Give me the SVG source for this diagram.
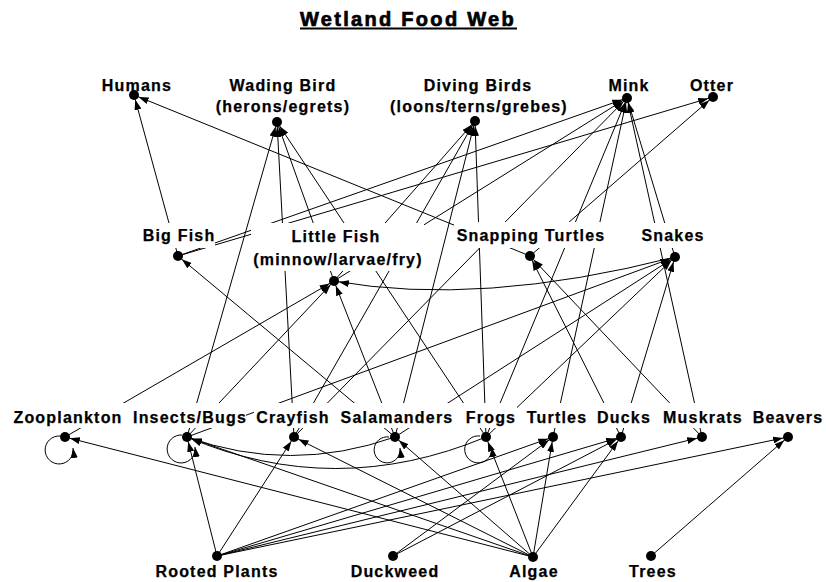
<svg xmlns="http://www.w3.org/2000/svg" width="826" height="582" viewBox="0 0 826 582">
<style>
.l{stroke:#000;stroke-width:1;fill:none;marker-end:url(#arr)}
.lp{stroke:#000;stroke-width:1;fill:none;marker-end:url(#arrl)}
.t{font-family:"Liberation Sans",Arial,sans-serif;font-weight:bold;font-size:16px;letter-spacing:1.2px;text-anchor:middle;fill:#000;stroke:#000;stroke-width:0.25px}
.bg{fill:#fff}
.d{fill:#000}
</style>
<defs>
<marker id="arr" viewBox="0 0 10 7" refX="15" refY="3.5" markerWidth="10" markerHeight="7" markerUnits="userSpaceOnUse" orient="auto"><path d="M0,0L10,3.5L0,7z" fill="#000"/></marker>
<marker id="arrl" viewBox="0 0 10 7" refX="10" refY="3.5" markerWidth="10" markerHeight="7" markerUnits="userSpaceOnUse" orient="auto"><path d="M0,0L10,3.5L0,7z" fill="#000"/></marker>
</defs>
<rect width="826" height="582" fill="#fff"/>
<g id="title">
<text x="408" y="26" style="font-family:'Liberation Sans',Arial,sans-serif;font-weight:bold;font-size:20px;letter-spacing:2.3px;text-anchor:middle;stroke:#000;stroke-width:0.7px">Wetland Food Web</text>
<line x1="300" y1="28.5" x2="517" y2="28.5" stroke="#000" stroke-width="2"/>
</g>
<g id="connectors">
<line class="l" x1="178" y1="256" x2="134" y2="95"/>
<line class="l" x1="530" y1="256" x2="134" y2="95"/>
<line class="l" x1="187" y1="437" x2="277" y2="122"/>
<line class="l" x1="294" y1="437" x2="277" y2="122"/>
<line class="l" x1="334" y1="281" x2="277" y2="122"/>
<line class="l" x1="486" y1="437" x2="277" y2="122"/>
<line class="l" x1="334" y1="281" x2="475" y2="121"/>
<line class="l" x1="294" y1="437" x2="475" y2="121"/>
<line class="l" x1="395" y1="437" x2="475" y2="121"/>
<line class="l" x1="486" y1="437" x2="475" y2="121"/>
<line class="l" x1="178" y1="256" x2="627" y2="98"/>
<line class="l" x1="334" y1="281" x2="627" y2="98"/>
<line class="l" x1="294" y1="437" x2="627" y2="98"/>
<line class="l" x1="486" y1="437" x2="627" y2="98"/>
<line class="l" x1="553" y1="437" x2="627" y2="98"/>
<line class="l" x1="702" y1="437" x2="627" y2="98"/>
<line class="l" x1="675" y1="257" x2="627" y2="98"/>
<line class="l" x1="178" y1="256" x2="713" y2="97"/>
<line class="l" x1="530" y1="256" x2="713" y2="97"/>
<line class="l" x1="395" y1="437" x2="178" y2="256"/>
<line class="l" x1="65" y1="437" x2="334" y2="281"/>
<line class="l" x1="187" y1="437" x2="334" y2="281"/>
<line class="l" x1="395" y1="437" x2="334" y2="281"/>
<path class="l" d="M675,257Q480,307 334,281"/>
<line class="l" x1="621" y1="437" x2="530" y2="256"/>
<line class="l" x1="702" y1="437" x2="530" y2="256"/>
<line class="l" x1="187" y1="437" x2="675" y2="257"/>
<line class="l" x1="395" y1="437" x2="675" y2="257"/>
<line class="l" x1="486" y1="437" x2="675" y2="257"/>
<line class="l" x1="621" y1="437" x2="675" y2="257"/>
<path class="lp" d="M60,436A14,14 0 1,0 73,448"/>
<path class="lp" d="M182,435A14,14 0 1,0 195,447"/>
<path class="lp" d="M389,437A13,13 0 1,0 400,448"/>
<path class="lp" d="M480,436A13.5,13.5 0 1,0 491.5,447"/>
<path class="l" d="M395,437Q290,474 187,437"/>
<path class="l" d="M486,437Q335,500 187,437"/>
<line class="l" x1="217" y1="556" x2="187" y2="437"/>
<line class="l" x1="217" y1="556" x2="294" y2="437"/>
<line class="l" x1="217" y1="556" x2="553" y2="437"/>
<line class="l" x1="217" y1="556" x2="621" y2="437"/>
<line class="l" x1="217" y1="556" x2="702" y2="437"/>
<line class="l" x1="217" y1="556" x2="788" y2="437"/>
<line class="l" x1="533" y1="557" x2="65" y2="437"/>
<line class="l" x1="533" y1="557" x2="187" y2="437"/>
<line class="l" x1="533" y1="557" x2="294" y2="437"/>
<line class="l" x1="533" y1="557" x2="395" y2="437"/>
<line class="l" x1="533" y1="557" x2="486" y2="437"/>
<line class="l" x1="533" y1="557" x2="553" y2="437"/>
<line class="l" x1="533" y1="557" x2="621" y2="437"/>
<line class="l" x1="393" y1="556" x2="553" y2="437"/>
<line class="l" x1="393" y1="556" x2="621" y2="437"/>
<line class="l" x1="651" y1="556" x2="788" y2="437"/>
</g>
<g id="humans"><rect class="bg" x="97" y="77" width="78" height="18"/><text class="t" x="137" y="91">Humans</text><circle class="d" cx="134" cy="95" r="5"/></g>
<g id="wading-bird"><rect class="bg" x="213" y="76" width="139" height="41"/><text class="t" x="283" y="91">Wading Bird</text><text class="t" x="283" y="112">(herons/egrets)</text><circle class="d" cx="277" cy="122" r="5"/></g>
<g id="diving-birds"><rect class="bg" x="387" y="76" width="183" height="41"/><text class="t" x="478" y="91">Diving Birds</text><text class="t" x="479" y="112">(loons/terns/grebes)</text><circle class="d" cx="475" cy="121" r="5"/></g>
<g id="mink"><rect class="bg" x="606" y="77" width="44" height="17"/><text class="t" x="629" y="91">Mink</text><circle class="d" cx="627" cy="98" r="5"/></g>
<g id="otter"><rect class="bg" x="688" y="77" width="47" height="17"/><text class="t" x="712" y="91">Otter</text><circle class="d" cx="713" cy="97" r="5"/></g>
<g id="big-fish"><rect class="bg" x="142" y="223" width="73" height="25"/><text class="t" x="179" y="241">Big Fish</text><circle class="d" cx="178" cy="256" r="5"/></g>
<g id="little-fish"><rect class="bg" x="251" y="223" width="173" height="48"/><text class="t" x="336" y="242">Little Fish</text><text class="t" x="338" y="265">(minnow/larvae/fry)</text><circle class="d" cx="334" cy="281" r="5"/></g>
<g id="snapping-turtles"><rect class="bg" x="454" y="222" width="153" height="26"/><text class="t" x="531" y="241">Snapping Turtles</text><circle class="d" cx="530" cy="256" r="5"/></g>
<g id="snakes"><rect class="bg" x="639" y="223" width="68" height="25"/><text class="t" x="673" y="241">Snakes</text><circle class="d" cx="675" cy="257" r="5"/></g>
<g id="zooplankton"><rect class="bg" x="11" y="403" width="113" height="25"/><text class="t" x="68" y="423">Zooplankton</text><circle class="d" cx="65" cy="437" r="5"/></g>
<g id="insects-bugs"><rect class="bg" x="132" y="403" width="114" height="25"/><text class="t" x="190" y="423">Insects/Bugs</text><circle class="d" cx="187" cy="437" r="5"/></g>
<g id="crayfish"><rect class="bg" x="254" y="403" width="76" height="25"/><text class="t" x="293" y="423">Crayfish</text><circle class="d" cx="294" cy="437" r="5"/></g>
<g id="salamanders"><rect class="bg" x="337" y="403" width="118" height="25"/><text class="t" x="397" y="423">Salamanders</text><circle class="d" cx="395" cy="437" r="5"/></g>
<g id="frogs"><rect class="bg" x="463" y="403" width="54" height="25"/><text class="t" x="491" y="423">Frogs</text><circle class="d" cx="486" cy="437" r="5"/></g>
<g id="turtles"><rect class="bg" x="525" y="403" width="62" height="25"/><text class="t" x="557" y="423">Turtles</text><circle class="d" cx="553" cy="437" r="5"/></g>
<g id="ducks"><rect class="bg" x="595" y="403" width="57" height="25"/><text class="t" x="624" y="423">Ducks</text><circle class="d" cx="621" cy="437" r="5"/></g>
<g id="muskrats"><rect class="bg" x="660" y="403" width="84" height="25"/><text class="t" x="703" y="423">Muskrats</text><circle class="d" cx="702" cy="437" r="5"/></g>
<g id="beavers"><rect class="bg" x="750" y="403" width="75" height="25"/><text class="t" x="788" y="423">Beavers</text><circle class="d" cx="788" cy="437" r="5"/></g>
<g id="rooted-plants"><text class="t" x="217" y="577">Rooted Plants</text><circle class="d" cx="217" cy="556" r="5"/></g>
<g id="duckweed"><text class="t" x="395" y="577">Duckweed</text><circle class="d" cx="393" cy="556" r="5"/></g>
<g id="algae"><text class="t" x="534" y="577">Algae</text><circle class="d" cx="533" cy="557" r="5"/></g>
<g id="trees"><text class="t" x="653" y="577">Trees</text><circle class="d" cx="651" cy="556" r="5"/></g>
</svg>
